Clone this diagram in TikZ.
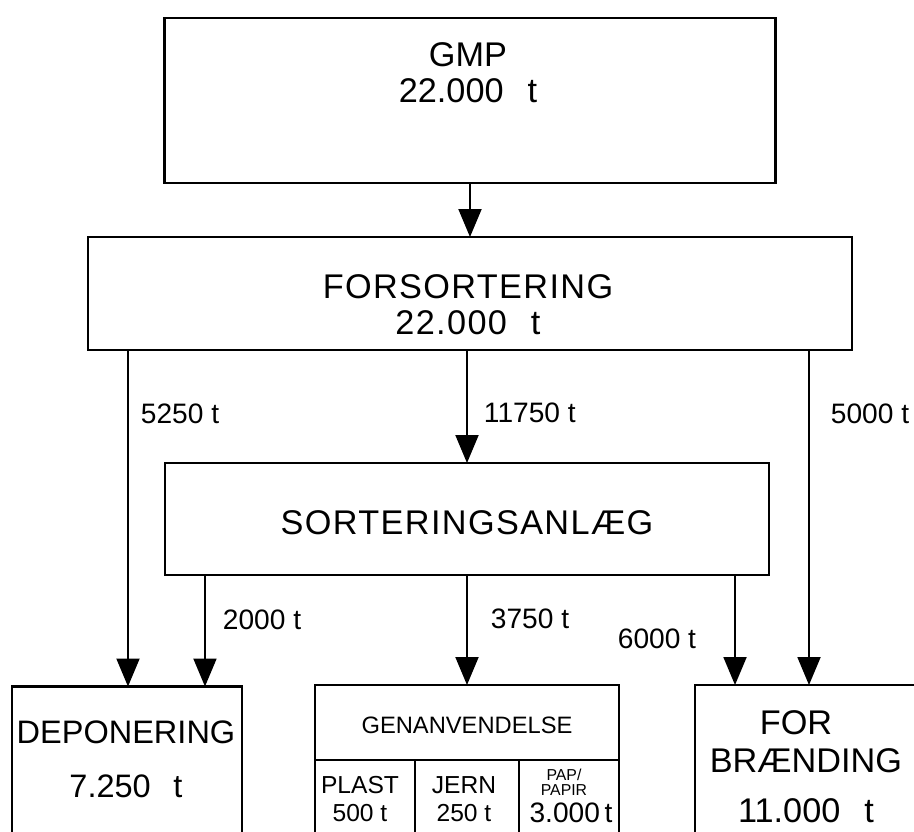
\documentclass[tikz,border=0pt]{standalone}
\usepackage{fontspec}
\setmainfont{Liberation Sans}
\usetikzlibrary{arrows.meta,positioning}

\newcommand{\bigtxt}{\fontsize{19.5}{20.5}\selectfont}
\newcommand{\widetxt}{\fontsize{19.5}{20.5}\selectfont\addfontfeature{LetterSpace=4}}
\newcommand{\lbltxt}{\fontsize{16}{18}\selectfont}
\newcommand{\midtxt}{\fontsize{14}{16}\selectfont}
\newcommand{\tinytxt}{\fontsize{9}{8.4}\selectfont}
\newcommand{\gap}{\hspace{0.7em}}

\begin{document}
\begin{tikzpicture}[
    x=0.02cm, y=-0.02cm,
    frame/.style={draw, line width=1.6pt, inner sep=0pt, outer sep=0pt},
    txt/.style={align=center, inner sep=0pt, font=\bigtxt},
    arr/.style={-{Triangle[length=5.6mm, width=4.6mm]}, line width=1.1pt},
    lbl/.style={font=\lbltxt, inner sep=0pt}
]
\useasboundingbox (0,0) rectangle (914,832);
\clip (0,0) rectangle (914,832);

% boxes
\node[frame, minimum width=12.22cm, minimum height=3.3cm] (gmp) at (470,100.5) {};
\node[frame, minimum width=15.28cm, minimum height=2.26cm] (fors) at (470,293.5) {};
\node[frame, minimum width=12.08cm, minimum height=2.24cm] (sort) at (467,519) {};
\node[frame, minimum width=4.6cm, minimum height=3.9cm] (dep) at (127,784) {};
\node[frame, minimum width=6.08cm, minimum height=1.5cm] (gen) at (467,722.5) {};
\node[frame, minimum width=2cm, minimum height=2.8cm, anchor=north west] (plast) at (gen.south west) {};
\node[frame, minimum width=2.08cm, minimum height=2.8cm, anchor=north west] (jern) at (plast.north east) {};
\node[frame, minimum width=2cm, minimum height=2.8cm, anchor=north west] (papir) at (jern.north east) {};
\node[frame, minimum width=5.3cm, minimum height=3.9cm] (fb) at (827.5,782.5) {};

% texts
\node[txt] (gmp-t) at (468,72.5) {GMP\\22.000\gap t};
\node[txt, font=\widetxt] (fors-t) at (468,305) {FORSORTERING\\22.000\gap t};
\node[txt, font=\widetxt] (sort-t) at (467,523) {SORTERINGSANLÆG};
\node[txt, font=\fontsize{18.5}{20}\selectfont] (dep-t) at (126,759.5) {DEPONERING\\[11pt]7.250\gap t};
\node[txt] (fb-t) at (806,766.5) {FOR\hspace*{0.4cm}\\[1pt]BRÆNDING\\[8pt]11.000\gap t};
\node[txt, font=\fontsize{13.5}{15}\selectfont] (gen-t) at (467,725) {GENANVENDELSE};
\node[txt, font=\midtxt] (plast-t) at (360,799) {PLAST\\500 t};
\node[txt, font=\midtxt] (jern-t) at (464,799) {JERN\\250 t};
\node[txt, font=\tinytxt] (papir-t) at (564,782) {PAP/\\PAPIR};
\node[txt, font=\fontsize{16}{18}\selectfont] (papir-v) at (571,813) {3.000\,t};

% arrow ends
\coordinate (dep-a) at ([xshift=2.32cm]dep.north west);
\coordinate (dep-b) at ([xshift=3.86cm]dep.north west);
\coordinate (fb-a) at ([xshift=0.8cm]fb.north west);
\coordinate (fb-b) at ([xshift=2.28cm]fb.north west);

\draw[arr] (gmp) -- (fors);
\draw[arr] (fors.south -| dep-a) -- node[lbl, anchor=west, pos=0.19, xshift=0.24cm] {5250 t} (dep-a);
\draw[arr] (fors.south -| sort.north) -- node[lbl, anchor=west, pos=0.56, xshift=0.32cm] {11750 t} (sort.north);
\draw[arr] (fors.south -| fb-b) -- node[lbl, anchor=west, pos=0.19, xshift=0.42cm] {5000 t} (fb-b);
\draw[arr] (sort.south -| dep-b) -- node[lbl, anchor=west, pos=0.4, xshift=0.34cm] {2000 t} (dep-b);
\draw[arr] (sort.south) -- node[lbl, anchor=west, pos=0.4, xshift=0.46cm] {3750 t} (gen.north);
\draw[arr] (sort.south -| fb-a) -- node[lbl, anchor=east, pos=0.58, xshift=-0.76cm] {6000 t} (fb-a);
\end{tikzpicture}
\end{document}
